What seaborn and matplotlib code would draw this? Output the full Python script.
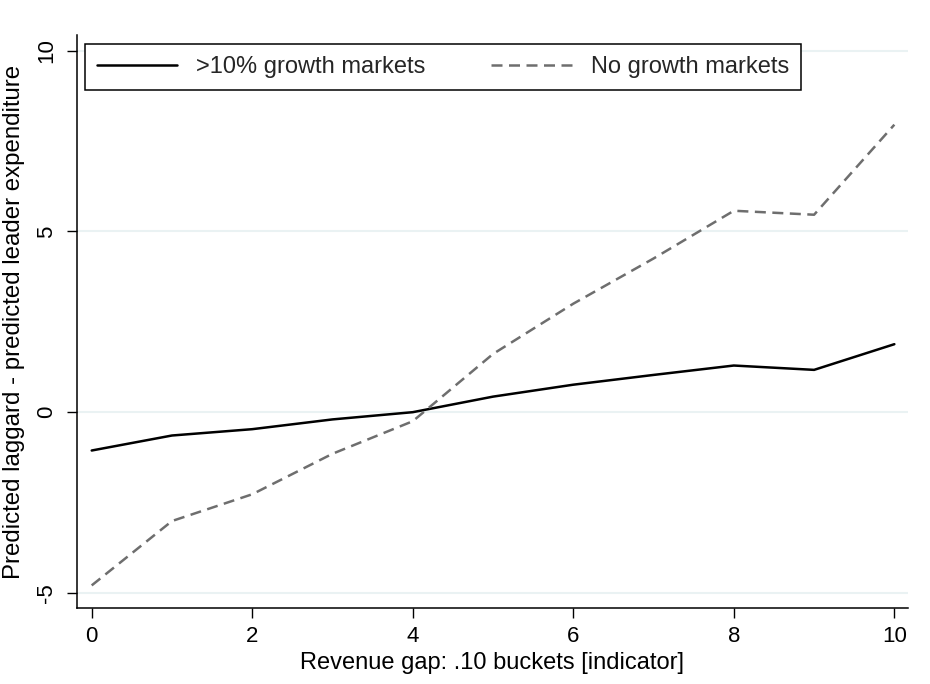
import numpy as np
import pandas as pd
import matplotlib
matplotlib.use("Agg")
import matplotlib.pyplot as plt
import seaborn as sns

# Revenue-gap buckets and predicted spending differences per market type
buckets = [0, 1, 2, 3, 4, 5, 6, 7, 8, 9, 10]
high_growth = [-1.06, -0.645, -0.47, -0.20, 0.0, 0.43, 0.76, 1.03, 1.29, 1.17, 1.88]
no_growth = [-4.79, -3.01, -2.27, -1.15, -0.25, 1.61, 3.0, 4.25, 5.57, 5.46, 7.95]
series_names = [">10% growth markets", "No growth markets"]
y_ticks = [-5, 0, 5, 10]
x_ticks = [0, 2, 4, 6, 8, 10]

df = pd.DataFrame({
    "bucket": buckets * 2,
    "diff": high_growth + no_growth,
    "market": [series_names[0]] * len(buckets) + [series_names[1]] * len(buckets),
})

sns.set_theme(style="white")
plt.rcParams["font.family"] = ["Liberation Sans", "DejaVu Sans"]

W, H = 930, 684
fig = plt.figure(figsize=(W / 100, H / 100), dpi=100)
left, right, top, bottom = 76.7, 908, 35, 608
ax = fig.add_axes([left / W, 1 - bottom / H, (right - left) / W, (bottom - top) / H])

palette = {series_names[0]: "black", series_names[1]: "#6e6e6e"}
dashes = {series_names[0]: "", series_names[1]: (4.4, 2.6)}
sns.lineplot(data=df, x="bucket", y="diff", hue="market", style="market",
             palette=palette, dashes=dashes, linewidth=1.8, ax=ax, legend=True)

ax.set_xlim(-0.187, 10.17)
ax.set_ylim(-5.415, 10.43)
ax.set_xticks(x_ticks)
ax.set_yticks(y_ticks)
ax.set_xticklabels([str(v) for v in x_ticks])
ax.set_yticklabels([str(v) for v in y_ticks], rotation=90, va="center")

# light horizontal gridlines at the y ticks
ax.grid(False)
for yv in y_ticks:
    ax.axhline(yv, color="#eaf2f3", linewidth=1.5, zorder=0)

for side in ["top", "right"]:
    ax.spines[side].set_visible(False)
for side in ["left", "bottom"]:
    ax.spines[side].set_color("black")
    ax.spines[side].set_linewidth(1.1)

ax.tick_params(axis="both", which="major", direction="out", length=7.2, width=1.0,
               color="black", labelsize=16, labelcolor="black", pad=6,
               left=True, bottom=True)
ax.tick_params(axis="y", pad=7)

ax.set_xlabel("Revenue gap: .10 buckets [indicator]", fontsize=17, color="black", labelpad=3)
ax.set_ylabel("Predicted laggard - predicted leader expenditure", fontsize=17.3,
              color="black", labelpad=8)

handles, labels = ax.get_legend_handles_labels()
leg = ax.legend(handles, labels, loc="upper left",
                bbox_to_anchor=(85 / W, 1 - 44 / H), bbox_transform=fig.transFigure,
                ncol=2, fontsize=17, frameon=True, fancybox=False, framealpha=1,
                edgecolor="black", handlelength=3.4, handletextpad=0.8,
                columnspacing=2.8, borderpad=0.5, borderaxespad=0)
leg.get_frame().set_linewidth(1.1)
for line in leg.get_lines():
    line.set_linewidth(1.8)

fig.savefig("out.png", dpi=100, facecolor="white")
